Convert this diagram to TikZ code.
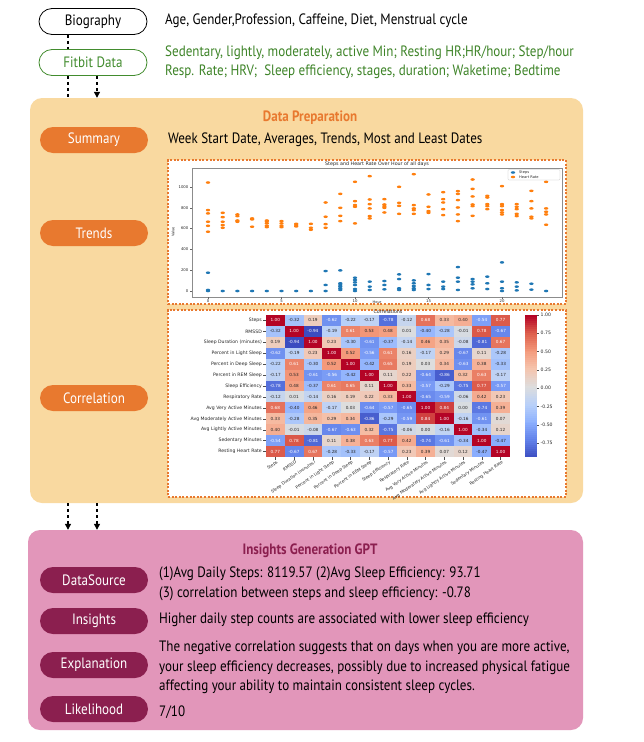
\documentclass[tikz,border=0pt]{standalone}
\usepackage{fontspec}
\setmainfont{PT Sans}[FakeStretch=0.87]
\newfontfamily\plotfont{DejaVu Sans}
\usetikzlibrary{arrows.meta}
\definecolor{prepC}{RGB}{249,217,160}
\definecolor{orangeP}{RGB}{232,121,47}
\definecolor{pinkC}{RGB}{226,150,186}
\definecolor{magP}{RGB}{139,31,79}
\definecolor{greenC}{RGB}{66,140,46}
\definecolor{greenT}{RGB}{62,132,40}
\definecolor{hrC}{RGB}{255,127,14}
\definecolor{stC}{RGB}{31,119,180}
\definecolor{cm0}{RGB}{59,76,192}
\definecolor{cm1}{RGB}{98,130,234}
\definecolor{cm2}{RGB}{141,176,254}
\definecolor{cm3}{RGB}{184,208,249}
\definecolor{cm4}{RGB}{221,221,221}
\definecolor{cm5}{RGB}{245,196,173}
\definecolor{cm6}{RGB}{244,154,123}
\definecolor{cm7}{RGB}{222,96,77}
\definecolor{cm8}{RGB}{180,4,38}
\newcommand\cwset[1]{%
 \pgfmathsetmacro\cwt{max(0,min(7.9999,((#1)+0.94)/1.94*8))}%
 \pgfmathtruncatemacro\cwi{floor(\cwt)}%
 \pgfmathtruncatemacro\cwj{\cwi+1}%
 \pgfmathtruncatemacro\cwf{round((\cwt-\cwi)*100)}%
 \colorlet{hc}{cm\cwj!\cwf!cm\cwi}}
\begin{document}
\begin{tikzpicture}[x=1pt,y=-1pt,
  pillbase/.style={rounded corners=13pt, minimum width=108pt, minimum height=26pt, inner sep=0pt, font=\fontsize{15}{18}\selectfont},
  opill/.style={pillbase, fill=orangeP, text=white},
  mpill/.style={pillbase, fill=magP, text=white},
  biopill/.style={pillbase, draw=black, fill=white, line width=0.8pt},
  fitpill/.style={pillbase, draw=greenC, text=greenC, fill=white, line width=0.8pt},
  body/.style={anchor=west, inner sep=0pt, font=\fontsize{15}{19.5}\selectfont, align=left},
  flow/.style={line width=1.1pt, dash pattern=on 3pt off 3pt},
  flowarr/.style={flow, -{Triangle[length=6pt,width=6pt]}},
  plotbox/.style={draw=orangeP, fill=white, line width=1.2pt, dash pattern=on 2pt off 1.6pt},
  tiny/.style={font=\plotfont\fontsize{4.6}{5}\selectfont, inner sep=0pt, text=black!85},
  hrdot/.style={fill=hrC},
  stdot/.style={fill=stC}
]
\useasboundingbox (0,0) rectangle (644,742);
\fill[white] (0,0) rectangle (644,742);

% top
\node[biopill] (bio) at (93,21.5) {Biography};
\node[fitpill] (fit) at (93,62.5) {Fitbit Data};
\node[body] (biot) at (165,21) {Age, Gender,Profession, Caffeine, Diet, Menstrual cycle};
\node[body, text=greenT] (fitt) at (165,62) {Sedentary, lightly, moderately, active Min; Resting HR;HR/hour; Step/hour\\Resp. Rate; HRV; \ Sleep efficiency, stages, duration; Waketime; Bedtime};

% data preparation
\node[fill=prepC, rounded corners=12pt, minimum width=553pt, minimum height=405pt, inner sep=0pt] (prep) at (306.5,300.5) {};
\node[font=\fontsize{15}{18}\selectfont\bfseries, text=orangeP] (prept) at (310,118) {Data Preparation};
\node[opill] (sum) at (94,140) {Summary};
\node[body] (sumt) at (168,140) {Week Start Date, Averages, Trends, Most and Least Dates};
\node[opill] (trn) at (94,233) {Trends};
\node[opill] (cor) at (94,398) {Correlation};

\draw[flow] ([xshift=-25pt]bio.south) -- ([xshift=-25pt]fit.north);
\draw[flow] ([xshift=-25pt]fit.south) -- ([xshift=-25pt]fit.south |- prep.north);
\draw[flowarr] ([xshift=4pt]fit.south) -- ([xshift=4pt]fit.south |- prep.north);

% scatter plot
\node[plotbox, minimum width=398pt, minimum height=144pt, inner sep=0pt] (scat) at (367,232) {};
\draw[black!45, line width=0.4pt] (192,168) rectangle (562,297);
\node[tiny, font=\plotfont\fontsize{4.8}{5}\selectfont] (scatt) at (377,164.5) {Steps and Heart Rate Over Hour of all days};
\foreach \v in {0,200,400,600,800,1000} {
  \draw[black!60, line width=0.3pt] (192,291-\v*0.104) -- (190,291-\v*0.104);
  \node[tiny, anchor=east, font=\plotfont\fontsize{3.8}{4}\selectfont] (yt\v) at (188.5,291-\v*0.104) {\v};
}
\foreach \h in {0,5,10,15,20} {
  \draw[black!60, line width=0.3pt] (208+\h*14.7,297) -- (208+\h*14.7,299);
  \node[tiny, anchor=north, font=\plotfont\fontsize{3.8}{4}\selectfont] (xt\h) at (208+\h*14.7,299.5) {\h};
}
\node[tiny, font=\plotfont\fontsize{3.6}{4}\selectfont, anchor=north] (xl) at (377,300.3) {Hour};
\node[tiny, font=\plotfont\fontsize{3.6}{4}\selectfont, rotate=90] (yl) at (173,232) {Value};
\foreach \h/\vals in {0/{1043,778,746,666,627,570},1/{752,710,666,634,608},2/{736,720,678,666},3/{698,688,618},4/{678,666,650,627,614},5/{672,650,627,614},6/{646,634,621},7/{646,608,589},8/{851,714,643,608},9/{934,800,723,672},10/{1050,864,826,810,650},11/{1104,880,835,794,720,698},12/{883,832,816,800,755},13/{1002,848,819,742},14/{1123,826,794,778,742},15/{928,810,768,752},16/{950,883,851,787,730},17/{960,934,874,803,736,672},18/{1072,982,909,832,816,723},19/{915,899,835,816,787},20/{1008,835,816,778,755,736},21/{835,810,787,742,720},22/{963,864,794,714,698},23/{1050,794,762,736,637}} {
  \foreach \v in \vals { \fill[hrdot] (208+\h*14.7,291-\v*0.104) ellipse [x radius=2.2, y radius=1.3]; }
}
\foreach \h/\vals in {0/{176,10,0},1/{0},2/{0},3/{0},4/{0},5/{0},6/{0},7/{0},8/{192,58,0},9/{198,74,58,42,26,10},10/{128,106,83,58,19,0},11/{90,42,10},12/{96,58,16},13/{160,115,26,10},14/{102,74,48,26,10},15/{163,58,19},16/{90,42,19},17/{230,128,90,10},18/{115,90,64,26},19/{138,74,19},20/{275,90,26,0},21/{83,42,6},22/{70,13},23/{0}} {
  \foreach \v in \vals { \fill[stdot] (208+\h*14.7,291-\v*0.104) ellipse [x radius=2.2, y radius=1.3]; }
}
\draw[black!25, fill=white, line width=0.3pt, rounded corners=1pt] (508,169.5) rectangle (560,180);
\fill[stdot] (513,172.5) ellipse [x radius=2.2, y radius=1.3];
\fill[hrdot] (513,177) ellipse [x radius=2.2, y radius=1.3];
\node[tiny, anchor=west, font=\plotfont\fontsize{3.6}{4}\selectfont] (lg1) at (519,172.5) {Steps};
\node[tiny, anchor=west, font=\plotfont\fontsize{3.6}{4}\selectfont] (lg2) at (519,177) {Heart Rate};

% heatmap
\node[plotbox, minimum width=398pt, minimum height=187pt, inner sep=0pt] (heat) at (367,403.5) {};
\node[tiny, font=\plotfont\fontsize{4.8}{5}\selectfont] (heatt) at (388,311.5) {Correlations};
\foreach \row [count=\r] in {
 {1.00,-0.32,0.19,-0.62,-0.22,-0.17,-0.78,-0.12,0.68,0.33,0.40,-0.54,0.77},
 {-0.32,1.00,-0.94,-0.19,0.61,0.53,0.48,0.01,-0.40,-0.28,-0.01,0.78,-0.67},
 {0.19,-0.94,1.00,0.23,-0.30,-0.61,-0.37,-0.14,0.46,0.35,-0.08,-0.81,0.67},
 {-0.62,-0.19,0.23,1.00,0.52,-0.56,0.61,0.16,-0.17,0.29,-0.67,0.11,-0.28},
 {-0.22,0.61,-0.30,0.52,1.00,-0.42,0.65,0.19,0.03,0.34,-0.63,0.38,-0.33},
 {-0.17,0.53,-0.61,-0.56,-0.42,1.00,0.11,0.22,-0.64,-0.86,0.32,0.63,-0.17},
 {-0.78,0.48,-0.37,0.61,0.65,0.11,1.00,0.33,-0.57,-0.29,-0.75,0.77,-0.57},
 {-0.12,0.01,-0.14,0.16,0.19,0.22,0.33,1.00,-0.65,-0.59,-0.06,0.42,0.23},
 {0.68,-0.40,0.46,-0.17,0.03,-0.64,-0.57,-0.65,1.00,0.84,0.00,-0.74,0.39},
 {0.33,-0.28,0.35,0.29,0.34,-0.86,-0.29,-0.59,0.84,1.00,-0.16,-0.61,0.07},
 {0.40,-0.01,-0.08,-0.67,-0.63,0.32,-0.75,-0.06,0.00,-0.16,1.00,-0.34,0.12},
 {-0.54,0.78,-0.81,0.11,0.38,0.63,0.77,0.42,-0.74,-0.61,-0.34,1.00,-0.47},
 {0.77,-0.67,0.67,-0.28,-0.33,-0.17,-0.57,0.23,0.39,0.07,0.12,-0.47,1.00}} {
  \foreach \v [count=\c] in \row {
    \cwset{\v}
    \pgfmathtruncatemacro\wt{or(\v<-0.5,\v>0.6)}
    \ifnum\wt=1 \def\tc{white}\else\def\tc{black!85}\fi
    \fill[hc] (266+\c*18.77-18.77,315+\r*10.92-10.92) rectangle ++(18.77,10.92);
    \node[font=\plotfont\fontsize{4.2}{4}\selectfont, inner sep=0pt, text=\tc] (c\r-\c) at (266+\c*18.77-9.385,315+\r*10.92-5.46) {\v};
  }
}
\foreach \lab [count=\r] in {Steps,RMSSD,Sleep Duration (minutes),Percent in Light Sleep,Percent in Deep Sleep,Percent in REM Sleep,Sleep Efficiency,Respiratory Rate,Avg Very Active Minutes,Avg Moderately Active Minutes,Avg Lightly Active Minutes,Sedentary Minutes,Resting Heart Rate} {
  \node[tiny, anchor=east] (rl\r) at (262,315+\r*10.92-5.46) {\lab};
  \draw[black!70, line width=0.3pt] (263,315+\r*10.92-5.46) -- (265.5,315+\r*10.92-5.46);
  \draw[black!70, line width=0.3pt] (266+\r*18.77-9.385,457) -- (266+\r*18.77-9.385,459.5);
  \node[tiny, anchor=north east, rotate=35, font=\plotfont\fontsize{4.2}{5}\selectfont] (cl\r) at (266+\r*18.77-8.5,460) {\lab};
}
% colorbar
\foreach \k in {0,...,71} {
  \cwset{1-\k*1.94/72}
  \fill[hc] (525,315+\k*1.9722) rectangle (537,315+\k*1.9722+2.2);
}
\foreach \v/\t in {1.00/1.00,0.75/0.75,0.50/0.50,0.25/0.25,0.00/0.00,-0.25/-0.25,-0.50/-0.50,-0.75/-0.75} {
  \draw[black!70, line width=0.3pt] (537,315+142*1/1.94-142*\v/1.94) -- (539,315+142*1/1.94-142*\v/1.94);
  \node[tiny, anchor=west] (cb\t) at (540.5,315+142*1/1.94-142*\v/1.94) {\t};
}

% insights
\node[fill=pinkC, rounded corners=12pt, minimum width=555pt, minimum height=200pt, inner sep=0pt] (ins) at (305.5,630) {};
\draw[flowarr] ([xshift=-238.5pt]prep.south) -- ([xshift=-237.5pt]ins.north);
\draw[flowarr] ([xshift=-209.5pt]prep.south) -- ([xshift=-208.5pt]ins.north);
\node[font=\fontsize{15}{18}\selectfont\bfseries, text=magP] (inst) at (310,551) {Insights Generation GPT};
\node[mpill] (ds) at (94,580) {DataSource};
\node[body] (dst) at (159,584) {(1)Avg Daily Steps: 8119.57 (2)Avg Sleep Efficiency: 93.71\\(3) correlation between steps and sleep efficiency: -0.78};
\node[mpill] (ig) at (94,621) {Insights};
\node[body] (igt) at (159,620) {Higher daily step counts are associated with lower sleep efficiency};
\node[mpill] (ex) at (94,665) {Explanation};
\node[body] (ext) at (159,667.5) {The negative correlation suggests that on days when you are more active,\\your sleep efficiency decreases, possibly due to increased physical fatigue\\affecting your ability to maintain consistent sleep cycles.};
\node[mpill] (lk) at (94,709) {Likelihood};
\node[body] (lkt) at (159,712) {7/10};
\end{tikzpicture}
\end{document}
